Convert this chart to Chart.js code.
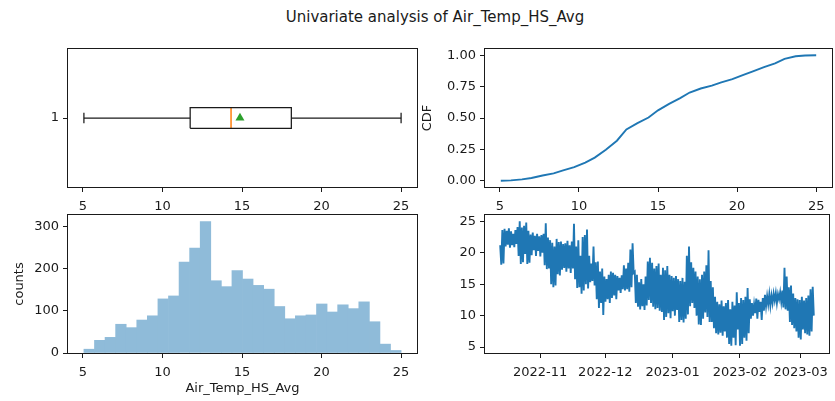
<!DOCTYPE html>
<html>
<head>
<meta charset="utf-8">
<script src="https://cdn.jsdelivr.net/npm/chart.js@4.4.1/dist/chart.umd.min.js"></script>
<style>
  body { margin: 0; background: #fff; width: 835px; height: 401px; position: relative; overflow: hidden; }
  canvas { position: absolute; }
  #title { position: absolute; left: 0; width: 870px; top: 8px; line-height: 18px; text-align: center;
           font-family: 'DejaVu Sans'; font-size: 15px; color: #1a1a1a; }
</style>
</head>
<body>
<div id="title">Univariate analysis of Air_Temp_HS_Avg</div>
<canvas id="box" width="430" height="185" style="left:0;top:30px"></canvas>
<canvas id="cdf" width="415" height="185" style="left:420px;top:30px"></canvas>
<canvas id="hist" width="430" height="201" style="left:0;top:200px"></canvas>
<canvas id="series" width="415" height="201" style="left:420px;top:200px"></canvas>
<script>
// value axis shared by box plot, CDF, histogram and series
const tempTicks = [5, 10, 15, 20, 25];
const tempRange = [4.06, 26.0];

// box plot: whisker low, Q1, median, Q3, whisker high
const boxStats = [5.06, 11.74, 14.31, 18.1, 25.0];
const meanValue = 14.87;

const cdfX = [5.06, 5.7, 6.4, 7.0, 7.7, 8.4, 9.0, 9.7, 10.4, 11.0, 11.7, 12.4, 13.0, 13.7, 14.4, 15.0,
  15.7, 16.4, 17.0, 17.7, 18.4, 19.0, 19.7, 20.4, 21.0, 21.7, 22.4, 23.0, 23.7, 24.3, 25.0];
const cdfY = [0, 0.003, 0.011, 0.022, 0.042, 0.059, 0.082, 0.108, 0.145, 0.184, 0.247, 0.319, 0.409, 0.459,
  0.504, 0.561, 0.612, 0.659, 0.703, 0.735, 0.758, 0.784, 0.81, 0.844, 0.872, 0.905, 0.935, 0.971, 0.992, 0.998, 1.0];
const cdfTicks = [0, 0.25, 0.5, 0.75, 1];

// histogram, 30 bins between min and max
const histRange = [5.06, 25.0];
const histCounts = [9, 30, 37, 68, 60, 78, 88, 128, 135, 215, 248, 311, 171, 157, 195,
  175, 160, 151, 110, 81, 88, 90, 116, 97, 114, 105, 121, 74, 21, 6];
const countTicks = [0, 100, 200, 300];

// time series: daily high / low of the band, one entry per day
const seriesStart = '2022-10-13T14:00:00Z';
const dailyHigh = [
  21.2, 23.6, 23.8, 23.5, 23.9, 23.4, 23.0, 23.6, 24.1, 25.0,
  24.0, 24.3, 24.8, 23.5, 22.9, 23.2, 22.7, 23.0, 22.6, 22.8,
  23.0, 24.7, 22.4, 22.0, 21.6, 21.0, 22.2, 21.7, 21.8, 21.4,
  21.5, 21.9, 21.2, 21.8, 24.6, 21.0, 22.0, 19.5, 22.5, 22.8,
  23.7, 19.5, 18.3, 21.0, 18.5, 18.6, 17.0, 17.5, 16.2, 15.8,
  16.5, 17.0, 16.8, 16.5, 16.3, 16.0, 16.4, 18.0, 17.5, 18.4,
  20.5, 21.5, 17.0, 16.5, 15.3, 15.8, 15.0, 16.2, 18.6, 19.2,
  18.4, 17.5, 17.9, 18.3, 16.5, 17.6, 17.2, 17.9, 16.5, 16.3,
  16.0, 16.3, 15.8, 15.5, 16.0, 15.4, 19.5, 21.0, 18.5, 17.6,
  17.0, 16.2, 15.8, 16.5, 17.0, 18.0, 20.4, 15.5, 14.5, 13.0,
  12.2, 11.8, 12.4, 11.5, 12.0, 12.5, 11.0, 12.2, 11.6, 13.7,
  12.0, 12.8, 12.5, 13.0, 14.4, 12.6, 12.0, 11.8, 12.7, 12.5,
  12.2, 12.8, 13.3, 13.1, 13.4, 13.2, 13.5, 13.6, 13.4, 13.7,
  14.0, 17.6, 16.2, 14.5, 14.8, 13.5, 12.8, 12.6, 12.5, 13.0,
  12.4, 12.8, 13.2, 14.2, 14.6
];
const dailyLow = [
  18.1, 18.3, 21.0, 21.3, 20.8, 21.2, 20.9, 21.4, 19.5, 18.2,
  18.5, 19.8, 18.2, 18.4, 19.6, 20.4, 19.5, 20.3, 19.4, 20.0,
  18.0, 17.4, 17.5, 15.0, 14.5, 14.8, 16.6, 16.4, 17.3, 17.6,
  17.0, 17.5, 16.8, 17.5, 15.8, 14.4, 14.5, 13.5, 14.0, 15.0,
  14.3, 15.3, 15.5, 14.8, 12.6, 11.2, 12.0, 10.1, 12.2, 12.6,
  12.0, 12.8, 13.2, 12.6, 14.0, 13.6, 14.2, 14.0, 14.2, 13.8,
  14.5, 16.8, 12.0, 11.4, 11.0, 11.5, 10.9, 11.6, 12.5, 12.0,
  11.4, 11.0, 11.2, 10.8, 10.6, 9.3, 9.8, 10.4, 9.6, 10.7,
  10.0, 10.9, 9.0, 9.3, 8.9, 9.5, 10.2, 11.5, 12.0, 11.2,
  10.0, 8.6, 8.5, 9.5, 10.5, 9.8, 9.0, 9.0, 8.0, 7.2,
  7.0, 7.3, 6.8, 7.5, 6.5, 5.5, 5.2, 6.5, 5.3, 7.8,
  5.2, 5.5, 6.5, 6.0, 7.2, 9.5, 10.0, 10.4, 9.5, 10.6,
  9.3, 10.8, 11.5, 11.8, 11.6, 12.0, 12.4, 12.0, 12.6, 12.2,
  11.3, 11.0, 10.8, 9.0, 8.5, 8.0, 7.5, 6.5, 6.2, 7.8,
  7.2, 7.0, 6.8, 7.5, 10.0
];
const monthTicks = ['2022-11-01', '2022-12-01', '2023-01-01', '2023-02-01', '2023-03-01'];
const timeRange = ['2022-10-06T14:00:00Z', '2023-03-14T07:00:00Z'];

const FONT = { family: 'DejaVu Sans', size: 13 };
const INK = '#1a1a1a';
const C0 = '#1f77b4';
const DAY = 86400000;

// matplotlib style spines on all four sides
const frame = {
  id: 'frame',
  afterDraw(chart) {
    const a = chart.chartArea, ctx = chart.ctx;
    ctx.save();
    ctx.strokeStyle = INK;
    ctx.lineWidth = 1;
    ctx.strokeRect(Math.round(a.left) - 0.5, Math.round(a.top) - 0.5,
      Math.round(a.right - a.left) + 1, Math.round(a.bottom - a.top) + 1);
    ctx.restore();
  }
};

function axis({ min, max, ticks, fmt, size, vertical, title, titlePad }) {
  return {
    type: 'linear', min, max, offset: false,
    afterBuildTicks: s => { s.ticks = ticks.map(v => ({ value: v })); },
    afterFit: s => { if (vertical) s.width = size; else s.height = size; },
    grid: { drawOnChartArea: false, drawTicks: true, tickLength: 5, tickWidth: 1, tickColor: INK, offset: false },
    border: { display: false },
    ticks: { color: INK, font: FONT, padding: vertical ? 4 : 7, autoSkip: false, maxRotation: 0, minRotation: 0,
             callback: fmt || (v => String(v)) },
    title: title ? { display: true, text: title, color: INK, font: FONT, padding: titlePad } : { display: false }
  };
}

function options(padding, x, y) {
  return {
    responsive: false, animation: false, devicePixelRatio: 1,
    layout: { padding },
    plugins: { legend: { display: false }, tooltip: { enabled: false } },
    scales: { x, y }
  };
}

function seg(points, color, width) {
  return { data: points, showLine: true, borderColor: color, borderWidth: width, pointRadius: 0, fill: false };
}

// box plot
const [lo, q1, med, q3, hi] = boxStats;
const half = 0.075, cap = 0.0375;
new Chart(document.getElementById('box'), {
  type: 'scatter',
  data: {
    datasets: [
      seg([{x: q1, y: 1 - half}, {x: q3, y: 1 - half}, {x: q3, y: 1 + half}, {x: q1, y: 1 + half}, {x: q1, y: 1 - half}], INK, 1.25),
      seg([{x: lo, y: 1}, {x: q1, y: 1}], INK, 1.25),
      seg([{x: q3, y: 1}, {x: hi, y: 1}], INK, 1.25),
      seg([{x: lo, y: 1 - cap}, {x: lo, y: 1 + cap}], INK, 1.25),
      seg([{x: hi, y: 1 - cap}, {x: hi, y: 1 + cap}], INK, 1.25),
      seg([{x: med, y: 1 - half}, {x: med, y: 1 + half}], '#ff7f0e', 1.5),
      { data: [{x: meanValue, y: 1}], pointStyle: 'triangle', pointRadius: 5.2,
        backgroundColor: '#2ca02c', borderColor: '#2ca02c', borderWidth: 0 }
    ]
  },
  options: options({ top: 19, right: 13, left: 0, bottom: 0 },
    axis({ min: tempRange[0], max: tempRange[1], ticks: tempTicks, size: 28 }),
    axis({ min: 0.5, max: 1.5, ticks: [1], size: 68, vertical: true })),
  plugins: [frame]
});

// CDF
new Chart(document.getElementById('cdf'), {
  type: 'scatter',
  data: { datasets: [seg(cdfX.map((v, i) => ({ x: v, y: cdfY[i] })), C0, 1.9)] },
  options: options({ top: 19, right: 3, left: 0, bottom: 0 },
    axis({ min: tempRange[0], max: tempRange[1], ticks: tempTicks, size: 28 }),
    axis({ min: -0.05, max: 1.05, ticks: cdfTicks, fmt: v => v.toFixed(2), size: 65, vertical: true,
           title: 'CDF', titlePad: { top: 0, bottom: 0 } })),
  plugins: [frame]
});

// histogram (alpha 0.5 of C0 over white, drawn opaque so bar edges do not double up)
const binWidth = (histRange[1] - histRange[0]) / histCounts.length;
new Chart(document.getElementById('hist'), {
  type: 'bar',
  data: {
    datasets: [{
      data: histCounts.map((c, i) => ({ x: histRange[0] + (i + 0.5) * binWidth, y: c })),
      backgroundColor: 'rgb(143,187,217)', borderWidth: 0,
      barPercentage: 1, categoryPercentage: 1
    }]
  },
  options: options({ top: 15, right: 13, left: 0, bottom: 0 },
    axis({ min: tempRange[0], max: tempRange[1], ticks: tempTicks, size: 48,
           title: 'Air_Temp_HS_Avg', titlePad: { top: 0, bottom: 5 } }),
    axis({ min: 0, max: 326.5, ticks: countTicks, size: 68, vertical: true,
           title: 'counts', titlePad: { top: 12, bottom: 0 } })),
  plugins: [frame]
});

// time series
const t0 = Date.parse(seriesStart);
const seriesPoints = [];
dailyHigh.forEach((h, i) => {
  seriesPoints.push({ x: t0 + i * DAY, y: h });
  seriesPoints.push({ x: t0 + (i + 0.5) * DAY, y: dailyLow[i] });
});
new Chart(document.getElementById('series'), {
  type: 'scatter',
  data: { datasets: [seg(seriesPoints, C0, 1.9)] },
  options: options({ top: 15, right: 3, left: 0, bottom: 0 },
    axis({ min: Date.parse(timeRange[0]), max: Date.parse(timeRange[1]), ticks: monthTicks.map(d => Date.parse(d)),
           fmt: v => new Date(v).toISOString().slice(0, 7), size: 48 }),
    axis({ min: tempRange[0], max: tempRange[1], ticks: tempTicks, size: 65, vertical: true })),
  plugins: [frame]
});
</script>
</body>
</html>
